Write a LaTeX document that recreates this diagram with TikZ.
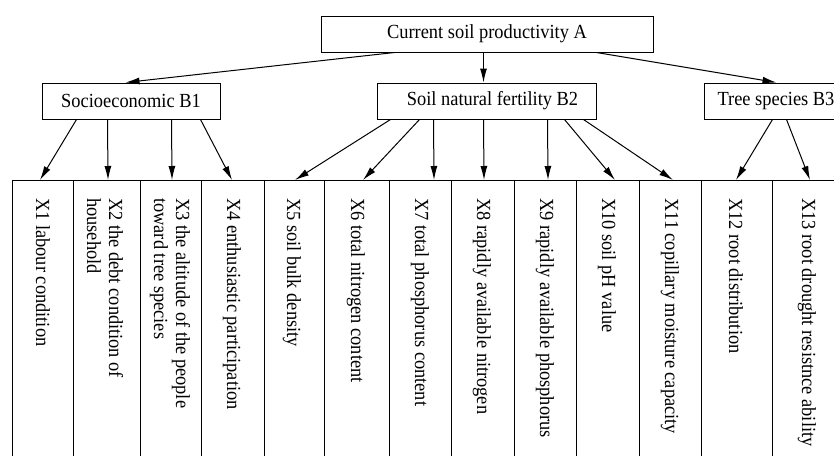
\documentclass[tikz,border=0pt]{standalone}
\usepackage{fontspec}
\setmainfont{Liberation Serif}[FakeStretch=0.92]
\usetikzlibrary{arrows.meta}
\tikzset{
  box/.style={draw, line width=1pt, inner sep=0pt, minimum height=36pt, font=\fontsize{20}{22}\selectfont},
  col/.style={draw, line width=1pt, inner sep=0pt, minimum height=290pt, anchor=north west},
  lab/.style={rotate=-90, anchor=west, inner sep=0pt, align=left, font=\fontsize{20}{22}\selectfont},
  arr/.style={line width=1pt, -{Latex[length=14pt,width=7pt]}}
}
\begin{document}
\begin{tikzpicture}[x=1pt,y=-1pt]
\useasboundingbox (0,0) rectangle (834,455);
\clip (0,0) rectangle (834,455);
% top and middle boxes
\node[box, minimum width=332pt] (A) at (487,34) {Current soil productivity A};
\node[box, minimum width=178pt] (B1) at (131,101) {Socioeconomic B1};
\node[box, minimum width=219pt] (B2) at (486.5,101) {\hspace{12pt}Soil natural fertility B2};
\node[box, minimum width=144pt] (B3) at (776,101) {Tree species B3};
% columns
\node[col, minimum width=61pt] (c1) at (12,180) {};
\node[col, minimum width=67pt] (c2) at (73,180) {};
\node[col, minimum width=61pt] (c3) at (140,180) {};
\node[col, minimum width=63pt] (c4) at (201,180) {};
\node[col, minimum width=60pt] (c5) at (264,180) {};
\node[col, minimum width=65pt] (c6) at (324,180) {};
\node[col, minimum width=62pt] (c7) at (389,180) {};
\node[col, minimum width=63pt] (c8) at (451,180) {};
\node[col, minimum width=62pt] (c9) at (514,180) {};
\node[col, minimum width=63pt] (c10) at (576,180) {};
\node[col, minimum width=62pt] (c11) at (639,180) {};
\node[col, minimum width=71pt] (c12) at (701,180) {};
\node[col, minimum width=70pt] (c13) at (772,180) {};
% column labels
\node[lab] (t1) at (43,198) {X1 labour condition};
\node[lab] (t2) at (105,198) {X2 the debt condition of\\household};
\node[lab] (t3) at (170,198) {X3 the altitude of the people\\toward tree species};
\node[lab] (t4) at (232,198) {X4 enthusiastic participation};
\node[lab] (t5) at (292,198) {X5 soil bulk density};
\node[lab] (t6) at (356,198) {X6 total nitrogen content};
\node[lab] (t7) at (420,198) {X7 total phosphorus content};
\node[lab] (t8) at (482,198) {X8 rapidly available nitrogen};
\node[lab] (t9) at (545,198) {X9 rapidly available phosphorus};
\node[lab] (t10) at (607,198) {X10 soil pH value};
\node[lab] (t11) at (670,198) {X11 copillary moisture capacity};
\node[lab] (t12) at (736,198) {X12 root distribution};
\node[lab] (t13) at (807,198) {X13 root drought resistnce ability};
% A to B
\draw[arr] ([xshift=74pt]A.south west) -- ([xshift=84pt]B1.north west);
\draw[arr] ([xshift=163pt]A.south west) -- ([xshift=107pt]B2.north west);
\draw[arr] ([xshift=276pt]A.south west) -- ([xshift=73pt]B3.north west);
% B1 to columns
\draw[arr] ([xshift=35pt]B1.south west) -- ([xshift=28pt]c1.north west);
\draw[arr] ([xshift=66pt]B1.south west) -- ([xshift=35pt]c2.north west);
\draw[arr] ([xshift=130pt]B1.south west) -- ([xshift=32pt]c3.north west);
\draw[arr] ([xshift=159pt]B1.south west) -- ([xshift=31pt]c4.north west);
% B2 to columns
\draw[arr] ([xshift=14pt]B2.south west) -- ([xshift=31pt]c5.north west);
\draw[arr] ([xshift=43pt]B2.south west) -- ([xshift=39pt]c6.north west);
\draw[arr] ([xshift=57pt]B2.south west) -- ([xshift=45pt]c7.north west);
\draw[arr] ([xshift=107pt]B2.south west) -- ([xshift=33pt]c8.north west);
\draw[arr] ([xshift=171pt]B2.south west) -- ([xshift=34pt]c9.north west);
\draw[arr] ([xshift=188pt]B2.south west) -- ([xshift=39pt]c10.north west);
\draw[arr] ([xshift=207pt]B2.south west) -- ([xshift=34pt]c11.north west);
% B3 to columns
\draw[arr] ([xshift=69pt]B3.south west) -- ([xshift=35pt]c12.north west);
\draw[arr] ([xshift=83pt]B3.south west) -- ([xshift=38pt]c13.north west);
\end{tikzpicture}
\end{document}
